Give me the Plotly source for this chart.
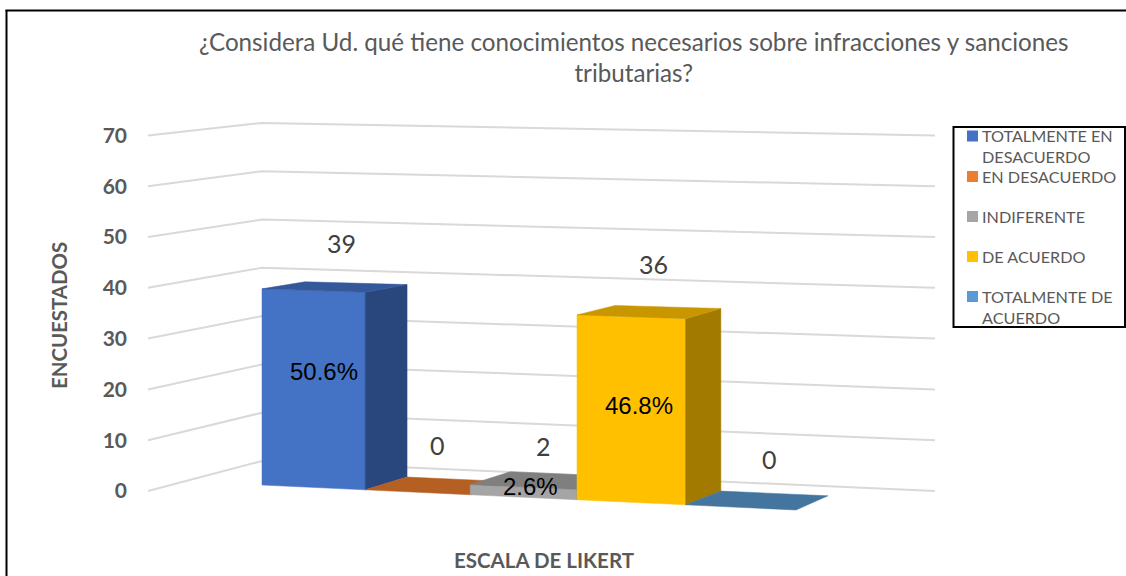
import plotly.graph_objects as go

# ---------- data ----------
categories = ["TOTALMENTE EN<br>DESACUERDO", "EN DESACUERDO", "INDIFERENTE", "DE ACUERDO", "TOTALMENTE DE<br>ACUERDO"]
counts = [39, 0, 2, 36, 0]
percent_labels = ["50.6%", "", "2.6%", "46.8%", ""]
y_ticks = [0, 10, 20, 30, 40, 50, 60, 70]
title_text = "¿Considera Ud. qué tiene conocimientos necesarios sobre infracciones y sanciones<br>tributarias?"
y_title = "ENCUESTADOS"
x_title = "ESCALA DE LIKERT"

# ---------- styles ----------
front_colors = ["#4472C4", "#ED7D31", "#A5A5A5", "#FFC000", "#5B9BD5"]
side_colors = ["#2A477D", "#96501F", "#696969", "#A37A00", "#3A6388"]
top_colors = ["#35589A", "#B65F23", "#7F7F7F", "#C89700", "#44759F"]
GRID = "#D9D9D9"
TEXT = "#595959"
FONT = "Lato"

W, H = 1126, 576
ML, MR, MT, MB = 0, 38, 87, 31
PX = 5.08          # horizontal-plane pixels per value unit, at the axis
Y0 = 491           # pixel row of value 0 on the axis


def to_val(py):
    return (Y0 - py) / PX


# oblique projection of the 3-D box chart (u: category slot, d: 0 front / 1 back, v: value)
def proj(u, d, v):
    xf = 262 + 102.3 * u + 0.9 * u * u
    xb = 305 + 101.43 * u + 0.633 * u * u
    yf = 485 + 0.0468 * (xf - 262) - (5.03 + 0.035 * u) * v
    yb = 472.5 + 0.0446 * (xb - 305) - (4.89 + 0.045 * u) * v
    return xf + (xb - xf) * d, to_val(yf + (yb - yf) * d)


def poly(points, color, name):
    xs = [p[0] for p in points] + [points[0][0]]
    ys = [p[1] for p in points] + [points[0][1]]
    return go.Scatter(x=xs, y=ys, mode="lines", fill="toself", fillcolor=color,
                      line=dict(color=color, width=0.5), hoverinfo="skip",
                      name=name, showlegend=False, cliponaxis=False)


fig = go.Figure()

# gridlines: front-left corner, back-left corner, right end
for t in y_ticks:
    fig.add_trace(go.Scatter(
        x=[148, 262, 935],
        y=[t, to_val(461 - 4.83 * t), t],
        mode="lines", line=dict(color=GRID, width=2), hoverinfo="skip",
        showlegend=False, cliponaxis=False))

# boxes, left to right
for i, (cat, v) in enumerate(zip(categories, counts)):
    name = cat.replace("<br>", " ")
    a, b = i, i + 1
    if v > 0:
        fig.add_trace(poly([proj(a, 0, 0), proj(b, 0, 0), proj(b, 0, v), proj(a, 0, v)], front_colors[i], name))
        fig.add_trace(poly([proj(b, 0, 0), proj(b, 1, 0), proj(b, 1, v), proj(b, 0, v)], side_colors[i], name))
    fig.add_trace(poly([proj(a, 0, v), proj(b, 0, v), proj(b, 1, v), proj(a, 1, v)], top_colors[i], name))

annotations = []

# value labels above boxes, percentage labels on the fronts
value_nudge = [(7, -44), (-1, -41), (1, -34), (4, -48), (12, -41)]
pct_nudge = [(11, -17), None, (7, -6), (8, -4), None]
for i, v in enumerate(counts):
    c = proj(i + 0.5, 0.5, v)
    dx, dy = value_nudge[i]
    annotations.append(dict(x=c[0] + dx, y=c[1] - dy / PX, text=str(v), showarrow=False,
                            xanchor="center", yanchor="middle",
                            font=dict(family=FONT, size=25, color="#404040")))
    if percent_labels[i]:
        c = proj(i + 0.5, 0, v / 2)
        dx, dy = pct_nudge[i]
        annotations.append(dict(x=c[0] + dx, y=c[1] - dy / PX, text=percent_labels[i], showarrow=False,
                                xanchor="center", yanchor="middle",
                                font=dict(family="Liberation Sans", size=24, color="#000000")))

# title and axis-name text in the pixel frame of the page
page = dict(xref="paper", yref="paper", showarrow=False)
def px(x): return (x - ML) / (W - ML - MR)
def py(y): return 1 - (y - MT) / (H - MT - MB)

annotations.append(dict(page, x=px(634), y=py(57.5), text=title_text, align="center",
                        xanchor="center", yanchor="middle",
                        font=dict(family=FONT, size=24.2, color=TEXT)))
annotations.append(dict(page, x=px(59), y=py(316), text=y_title, textangle=-90,
                        xanchor="center", yanchor="middle",
                        font=dict(family=FONT, size=20.4, color=TEXT, weight="bold")))

# legend
legend_rows = [136, 176.5, 216.5, 256.5, 296.5]
shapes = [
    dict(type="line", xref="paper", yref="paper", x0=px(6.5), x1=px(6.5), y0=py(10), y1=py(576),
         line=dict(color="black", width=2)),
    dict(type="line", xref="paper", yref="paper", x0=px(5.5), x1=px(1126), y0=py(10.5), y1=py(10.5),
         line=dict(color="black", width=2)),
    dict(type="rect", xref="paper", yref="paper", x0=px(953.5), x1=px(1125), y0=py(327), y1=py(127),
         line=dict(color="black", width=2), fillcolor="white"),
]
for cat, color, row in zip(categories, front_colors, legend_rows):
    shapes.append(dict(type="rect", xref="paper", yref="paper", x0=px(967), x1=px(978),
                       y0=py(row + 5.5), y1=py(row - 5.5), fillcolor=color, line=dict(width=0)))
    annotations.append(dict(page, x=px(980), y=py(row - 12), text=cat, align="left",
                            xanchor="left", yanchor="top",
                            font=dict(family=FONT, size=16.2, color=TEXT)))

fig.update_layout(
    width=W, height=H, margin=dict(l=ML, r=MR, t=MT, b=MB, pad=0),
    paper_bgcolor="white", plot_bgcolor="white", showlegend=False,
    annotations=annotations, shapes=shapes,
    xaxis=dict(range=[0, W - ML - MR], visible=True, showticklabels=False, showgrid=False,
               zeroline=False, showline=False, ticks="",
               title=dict(text=x_title, standoff=8,
                          font=dict(family=FONT, size=20.5, color=TEXT, weight="bold"))),
    yaxis=dict(range=[to_val(H - MB), to_val(MT)], anchor="free", position=127 / (W - ML - MR),
               tickvals=y_ticks, showgrid=False, zeroline=False, showline=False, ticks="",
               tickfont=dict(family=FONT, size=21, color=TEXT, weight="bold")),
)

fig.write_html("out.html", config=dict(displayModeBar=False),
               post_script="document.body.style.margin='0';document.body.style.overflow='hidden';")
